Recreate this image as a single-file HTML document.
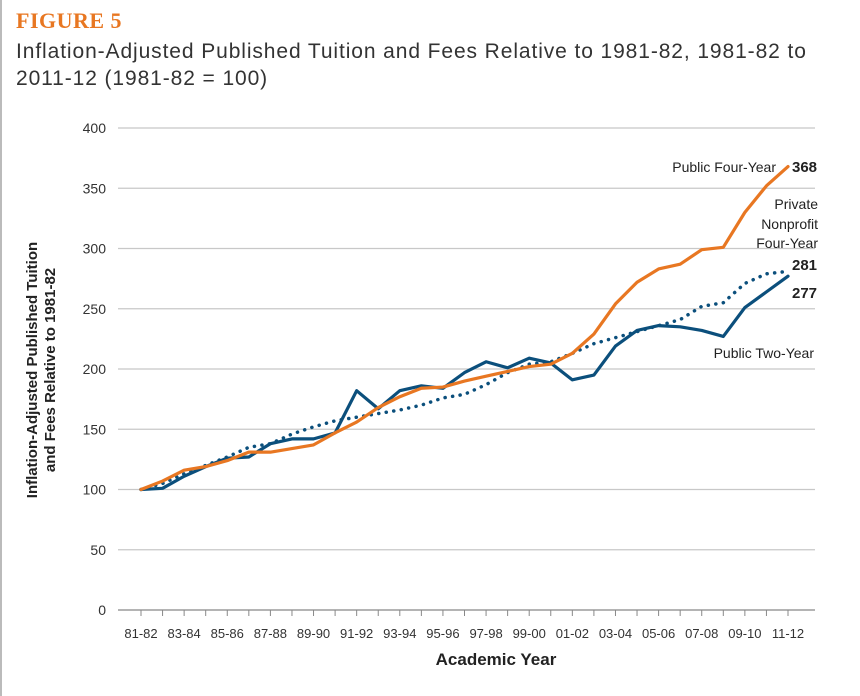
<!DOCTYPE html>
<html><head><meta charset="utf-8"><style>
body{margin:0;background:#fff;width:860px;height:696px;overflow:hidden;font-family:"Liberation Sans",sans-serif}
</style></head><body>
<div style="position:absolute;left:0;top:0;width:2px;height:696px;background:#bbb"></div>
<div style="position:absolute;left:16px;top:8px;font-family:'Liberation Serif',serif;font-weight:bold;font-size:22px;color:#e87722;letter-spacing:0.5px">FIGURE 5</div>
<div style="position:absolute;left:16px;top:38px;font-size:21px;letter-spacing:0.9px;line-height:27px;color:#333;width:810px">Inflation-Adjusted Published Tuition and Fees Relative to 1981-82, 1981-82 to 2011-12 (1981-82 = 100)</div>
<svg id="chart" width="860" height="696" style="position:absolute;left:0;top:0"></svg>
<script>
const categories=["81-82","82-83","83-84","84-85","85-86","86-87","87-88","88-89","89-90","90-91","91-92","92-93","93-94","94-95","95-96","96-97","97-98","98-99","99-00","00-01","01-02","02-03","03-04","04-05","05-06","06-07","07-08","08-09","09-10","10-11","11-12"];
const publicFour=[100,107,116,119,124,131,131,134,137,147,156,168,177,184,185,190,194,198,202,204,213,229,254,272,283,287,299,301,330,352,368];
const privateFour=[100,105,113,120,127,135,138,146,152,157,160,163,166,170,176,179,187,197,204,206,213,221,226,231,236,241,252,255,271,279,281];
const publicTwo=[100,101,111,119,126,127,138,142,142,147,182,167,182,186,184,197,206,201,209,205,191,195,219,232,236,235,232,227,251,264,277];
const yTicks=[0,50,100,150,200,250,300,350,400];
const NS="http://www.w3.org/2000/svg";
const svg=document.getElementById('chart');
const x0=141,x1=788,yB=610,yT=128;
const xs=i=>x0+i*(x1-x0)/(categories.length-1);
const ys=v=>yB-v*(yB-yT)/400;
function mk(t,a){const e=document.createElementNS(NS,t);for(const k in a)e.setAttribute(k,a[k]);svg.appendChild(e);return e;}
yTicks.forEach(v=>{
  const g=mk('line',{x1:118,x2:815,y1:ys(v),y2:ys(v),stroke:v===0?'#888':'#c8c8c8','stroke-width':1.3});
  
  
  const t=mk('text',{x:106,y:ys(v)+5,'text-anchor':'end','font-size':14,fill:'#333'});
  t.textContent=v;
  
  
});
categories.forEach((c,i)=>{
  const tk=mk('line',{x1:xs(i),x2:xs(i),y1:yB,y2:yB+6,stroke:'#888'});
  
  
  if(i%2===0){
    const t=mk('text',{x:xs(i),y:yB+28,'text-anchor':'middle','font-size':13,fill:'#333'});
    t.textContent=c;
    
    
  }
});
function line(d,color,dash,name){
  const p=mk('polyline',{points:d.map((v,i)=>xs(i)+','+ys(v)).join(' '),fill:'none',stroke:color,'stroke-width':dash?3.5:3.2,'stroke-linejoin':'round','stroke-linecap':'round'});
  if(dash){p.setAttribute('stroke-dasharray','0.1 7.5');}
  
  
}
line(privateFour,'#0b4f7c',true,'series-private-nonprofit-four-year');
line(publicTwo,'#0b4f7c',false,'series-public-two-year');
line(publicFour,'#e87722',false,'series-public-four-year');
function lbl(x,y,s,name,bold,anchor){
  const t=mk('text',{x:x,y:y,'font-size':bold?15:14,fill:'#222','text-anchor':anchor||'start','font-weight':bold?'bold':'normal'});
  t.textContent=s;
  
  
}
lbl(776,172,'Public Four-Year','label-public-four-year',false,'end');
lbl(792,172,'368','value-public-four-year',true);
lbl(818,209,'Private','label-private-1',false,'end');
lbl(818,229,'Nonprofit','label-private-2',false,'end');
lbl(818,248,'Four-Year','label-private-3',false,'end');
lbl(792,270,'281','value-private',true);
lbl(792,298,'277','value-public-two-year',true);
lbl(814,358,'Public Two-Year','label-public-two-year',false,'end');
const xt=mk('text',{x:496,y:665,'text-anchor':'middle','font-size':17,'font-weight':'bold',fill:'#222'});
xt.textContent='Academic Year';


const yt=mk('text',{transform:'translate(37,370) rotate(-90)','text-anchor':'middle','font-size':15,'font-weight':'bold',fill:'#222'});


const a=document.createElementNS(NS,'tspan');a.setAttribute('x',0);a.setAttribute('dy',0);a.textContent='Inflation-Adjusted Published Tuition';yt.appendChild(a);
const b=document.createElementNS(NS,'tspan');b.setAttribute('x',0);b.setAttribute('dy',18);b.textContent='and Fees Relative to 1981-82';yt.appendChild(b);
</script>
</body></html>
